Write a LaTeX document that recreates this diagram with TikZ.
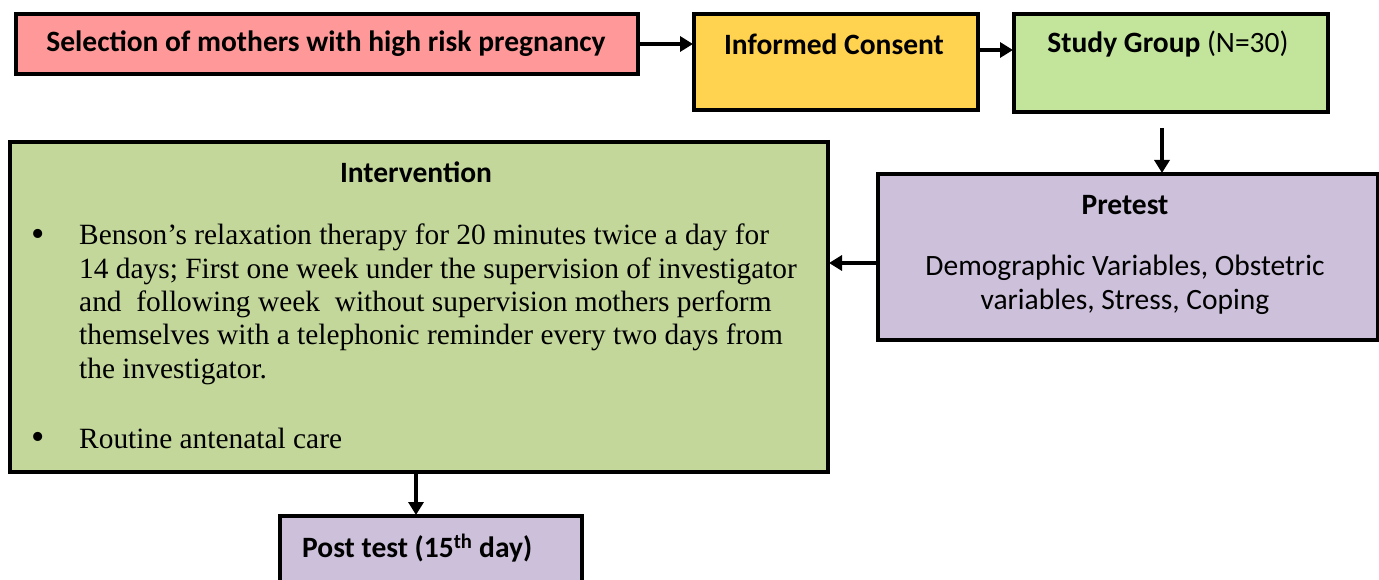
\documentclass[tikz,border=0pt]{standalone}
\usepackage{fontspec}
\setmainfont{Carlito}
\newfontfamily\bodyserif{Liberation Serif}
\usetikzlibrary{arrows.meta}
\definecolor{pinkc}{HTML}{FF9999}
\definecolor{goldc}{HTML}{FFD24F}
\definecolor{studyc}{HTML}{C3E59B}
\definecolor{intc}{HTML}{C4D79B}
\definecolor{lavc}{HTML}{CCC0DA}
\tikzset{
  box/.style={draw=black, line width=4pt, inner sep=0pt, anchor=north west},
  lbl/.style={inner sep=0pt, font=\fontsize{29.5}{34}\selectfont\bfseries},
  plain/.style={inner sep=0pt, font=\fontsize{29.5}{34}\selectfont},
  body/.style={inner sep=0pt, anchor=north west, align=left, font=\fontsize{29.4}{33.3}\selectfont\bodyserif},
  dot/.style={inner sep=0pt, font=\fontsize{38}{40}\selectfont\bodyserif},
  arr/.style={line width=4pt, -{Triangle[length=13pt,width=15pt]}, shorten >=-1pt}
}
\begin{document}
\begin{tikzpicture}[x=1pt,y=-1pt]
\useasboundingbox (0,0) rectangle (1379,580);
% boxes
\node[box, fill=pinkc, minimum width=622pt, minimum height=60pt] (sel) at (14,12) {};
\node[box, fill=goldc, minimum width=284pt, minimum height=96pt] (ic) at (692,12) {};
\node[box, fill=studyc, minimum width=314pt, minimum height=98pt] (sg) at (1012,12) {};
\node[box, fill=lavc, minimum width=500pt, minimum height=166pt] (pre) at (876,172) {};
\node[box, fill=intc, minimum width=818pt, minimum height=330pt] (int) at (8,140) {};
\node[box, fill=lavc, minimum width=302pt, minimum height=80pt] (post) at (278,514) {};
% texts
\node[lbl] (t1) at (326,44) {Selection of mothers with high risk pregnancy};
\node[lbl] (t2) at (834,44) {Informed Consent};
\node[lbl] (t3) at (1168,44) {Study Group \mdseries(N=30)};
\node[lbl] (t4) at (1125,205) {Pretest};
\node[plain, align=center] (t5) at (1125,285) {Demographic Variables, Obstetric\\variables, Stress, Coping};
\node[lbl] (t6) at (416,172) {Intervention};
\node[lbl, anchor=west] (t7) at (302,548) {Post test (15\textsuperscript{th} day)};
\node[body] (b1) at (79,224) {Benson’s relaxation therapy for 20 minutes twice a day for\\
14 days; First one week under the supervision of investigator\\
and\ \ following week\ \ without supervision mothers perform\\
themselves with a telephonic reminder every two days from\\
the investigator.};
\node[body] (b2) at (79,428) {Routine antenatal care};
\node[dot] (d1) at (38,238) {•};
\node[dot] (d2) at (38,441) {•};
% arrows
\draw[arr] (sel.east) -- (sel.east -| ic.west);
\draw[arr] (ic.east |- 0,50) -- (sg.west |- 0,50);
\coordinate (sgb) at (1162,128);
\draw[arr] (sgb) -- (sgb |- pre.north);
\draw[arr] (pre.west |- 0,263) -- (int.east |- 0,263);
\draw[arr] (int.south -| 416,0) -- (post.north -| 416,0);
\end{tikzpicture}
\end{document}
